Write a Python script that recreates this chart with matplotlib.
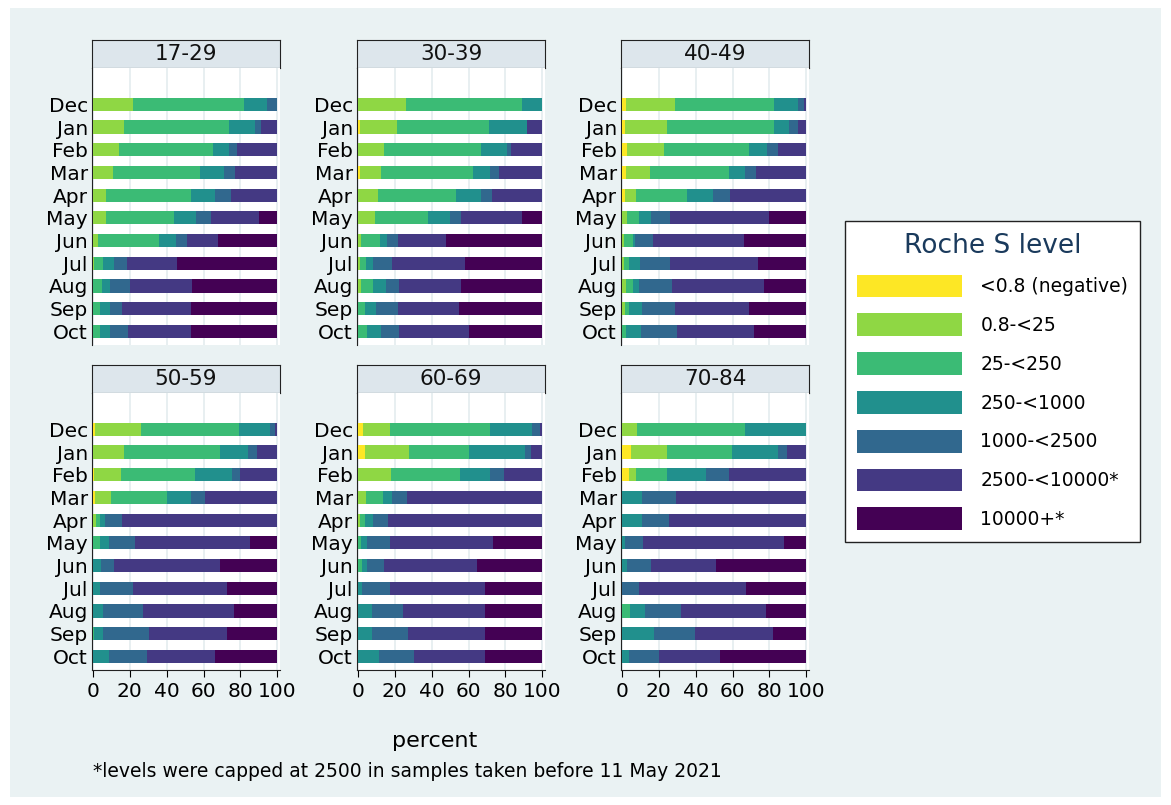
import numpy as np
from matplotlib import pyplot as plt
from matplotlib.patches import Patch, Rectangle

# ============================== Data =============================== #
months = ["Dec", "Jan", "Feb", "Mar", "Apr", "May", "Jun", "Jul", "Aug", "Sep", "Oct"]
levels = ["<0.8 (negative)", "0.8-<25", "25-<250", "250-<1000",
          "1000-<2500", "2500-<10000*", "10000+*"]
colors = ["#fde725", "#8fd744", "#3bbb75", "#21908d", "#31688e", "#443983", "#440154"]

# percent per level, one row per month (Dec..Oct)
age_17_29 = [
    [0, 21.5, 60.3, 12.8, 5.4, 0, 0],
    [0, 17, 57, 14, 3, 9, 0],
    [0, 14, 51, 9, 4, 22, 0],
    [0, 11, 47, 13, 6, 23, 0],
    [0, 7, 46, 13, 9, 25, 0],
    [0, 7, 37, 12, 8, 26, 10],
    [0, 3, 33, 9, 6, 17, 32],
    [0, 0.5, 5, 6, 7, 27, 54.5],
    [0, 0, 5, 4, 11, 34, 46],
    [0, 0, 4, 5, 7, 37, 47],
    [0, 0, 4, 5, 10, 34, 47],
]
age_30_39 = [
    [0, 26, 63, 11, 0, 0, 0],
    [1, 20, 50, 21, 0, 8, 0],
    [0, 14, 53, 14, 2, 17, 0],
    [1, 11.5, 50, 9, 5, 23.5, 0],
    [0, 11, 42, 14, 6, 27, 0],
    [0, 9, 29, 12, 6, 33, 11],
    [0, 1.4, 10.5, 4, 6, 26, 52.1],
    [0, 1, 3.5, 3.5, 10.5, 39.5, 42],
    [0, 1.6, 6.5, 7, 7, 34, 43.9],
    [0, 0, 4, 6, 12, 33, 45],
    [0, 0, 5, 7.5, 10, 37.5, 40],
]
age_40_49 = [
    [2, 27, 53.5, 13, 3.5, 1, 0],
    [1.4, 23, 58, 8, 5, 4.6, 0],
    [2.7, 20, 46, 10, 6, 15.3, 0],
    [2, 13, 43, 9, 6, 27, 0],
    [1.4, 6, 28, 14, 9, 41.6, 0],
    [0, 2.7, 6.6, 6.3, 10.7, 53.6, 20.1],
    [0, 1, 5, 1, 10, 49, 34],
    [0, 1, 3, 6, 16, 48, 26],
    [0, 2, 4, 3, 18, 50, 23],
    [0, 1.4, 2.4, 7, 18, 40, 31.2],
    [0, 0, 2, 8.5, 19.5, 41.5, 28.5],
]
age_50_59 = [
    [1.3, 25, 53, 17, 2.7, 1, 0],
    [0, 17, 52, 15, 5, 11, 0],
    [0.5, 15, 40, 20, 4.5, 20, 0],
    [1, 9, 30, 13, 8, 39, 0],
    [0, 1.4, 2.4, 3, 9.2, 84, 0],
    [0, 0, 4, 4.5, 14.5, 62, 15],
    [0, 0, 0, 4.3, 7.4, 57.3, 31],
    [0, 0, 0, 4, 18, 51, 27],
    [0, 0, 0, 5.4, 22, 49, 23.6],
    [0, 0, 0.5, 5, 25, 42, 27.5],
    [0, 0, 0, 8.7, 20.4, 37, 33.9],
]
age_60_69 = [
    [2.5, 15, 54, 23, 4.5, 1, 0],
    [3.8, 24, 32.7, 30, 3.5, 6, 0],
    [0, 18, 37.5, 16, 7.5, 21, 0],
    [0, 4.5, 9, 5, 8, 73.5, 0],
    [0, 1, 3, 4, 8.5, 83.5, 0],
    [0, 0, 1.4, 3.6, 12.3, 55.8, 26.9],
    [0, 0, 2, 3, 9.3, 50.5, 35.2],
    [0, 0, 0, 2, 15.3, 51.5, 31.2],
    [0, 0, 0, 7.6, 16.6, 44.6, 31.2],
    [0, 0, 0, 7.6, 19.4, 41.8, 31.2],
    [0, 0, 0, 11.2, 19.1, 38.5, 31.2],
]
age_70_84 = [
    [0, 8, 59, 33, 0, 0, 0],
    [4.8, 19.6, 35.4, 25, 5, 10.2, 0],
    [3.6, 4.3, 16.5, 21.4, 12.2, 42, 0],
    [0, 0, 0, 11, 18.3, 70.7, 0],
    [0, 0, 0, 11, 14.7, 74.3, 0],
    [0, 0, 0, 1.8, 9.9, 76.1, 12.2],
    [0, 0, 0, 3, 12.8, 35.5, 48.7],
    [0, 0, 0, 0, 9.2, 57.9, 32.9],
    [0, 0, 4.3, 8.4, 19.6, 45.8, 21.9],
    [0, 0, 0, 17.6, 22.1, 42.2, 18.1],
    [0, 0, 0, 3.6, 16.5, 33, 46.9],
]
groups = ["17-29", "30-39", "40-49", "50-59", "60-69", "70-84"]
panels = [age_17_29, age_30_39, age_40_49, age_50_59, age_60_69, age_70_84]
# =================================================================== #

W, H = 1171, 805
bg = "#eaf2f3"
fig = plt.figure(figsize=(W / 100, H / 100), dpi=100, facecolor="white")
fig.patches.append(Rectangle((10 / W, 8 / H), (W - 20) / W, (H - 16) / H,
                             transform=fig.transFigure, facecolor=bg,
                             edgecolor="none", zorder=-10))

def px_axes(x0, y0, x1, y1):
    return fig.add_axes([x0 / W, 1 - y1 / H, (x1 - x0) / W, (y1 - y0) / H])

col_x = [92, 357, 621]
row_y = [(40, 68, 345), (365, 393, 670)]
pw = 188

for i, (g, data) in enumerate(zip(groups, panels)):
    r, c = divmod(i, 3)
    x0 = col_x[c]
    ht, pt, pb = row_y[r]
    # header strip
    hax = px_axes(x0, ht, x0 + pw, pt)
    hax.set_facecolor("#dde6ec")
    hax.set_xticks([]); hax.set_yticks([])
    for s in hax.spines.values():
        s.set_color("#222222"); s.set_linewidth(0.8)
    hax.text(0.5, 0.5, g, ha="center", va="center", fontsize=15.5, color="#111111")

    ax = px_axes(x0, pt, x0 + pw, pb)
    arr = np.array(data)
    ypos = np.arange(len(months))
    left = np.zeros(len(months))
    for k in range(len(levels)):
        ax.barh(ypos, arr[:, k], left=left, height=0.58, color=colors[k], zorder=3)
        left += arr[:, k]
    ax.set_ylim(len(months) - 0.4, -1.6)
    ax.set_xlim(-0.5, 101.5)
    ax.set_yticks(ypos)
    ax.set_yticklabels(months, fontsize=14.5)
    ax.tick_params(axis="y", length=0, pad=3)
    ax.set_xticks([0, 20, 40, 60, 80, 100])
    ax.grid(axis="x", color="#e4ecef", linewidth=1.2, zorder=0)
    for s in ["top", "right"]:
        ax.spines[s].set_visible(False)
    ax.spines["left"].set_color("#222222")
    if r == 1:
        ax.tick_params(axis="x", labelsize=14.5, length=5)
        ax.spines["bottom"].set_color("#222222")
    else:
        ax.spines["bottom"].set_visible(False)
        ax.tick_params(axis="x", length=0, labelbottom=False)

fig.text(435 / W, 1 - 741 / H, "percent", ha="center", va="center", fontsize=16)
fig.text(93 / W, 1 - 771 / H, "*levels were capped at 2500 in samples taken before 11 May 2021",
         ha="left", va="center", fontsize=13.5)

handles = [Patch(facecolor=col, edgecolor="none") for col in colors]
leg = fig.legend(handles, levels, loc="upper left", bbox_to_anchor=(836 / W, 1 - 212 / H),
                 title="Roche S level", fontsize=13.5, title_fontsize=19,
                 frameon=True, fancybox=False, edgecolor="#222222", framealpha=1,
                 facecolor="white", handlelength=5.6, handleheight=1.5,
                 labelspacing=0.85, borderpad=0.6, handletextpad=1.0)
leg.get_frame().set_linewidth(1.0)
leg.get_title().set_color("#1a3a5c")

fig.savefig("out.png", dpi=100, facecolor="white")
